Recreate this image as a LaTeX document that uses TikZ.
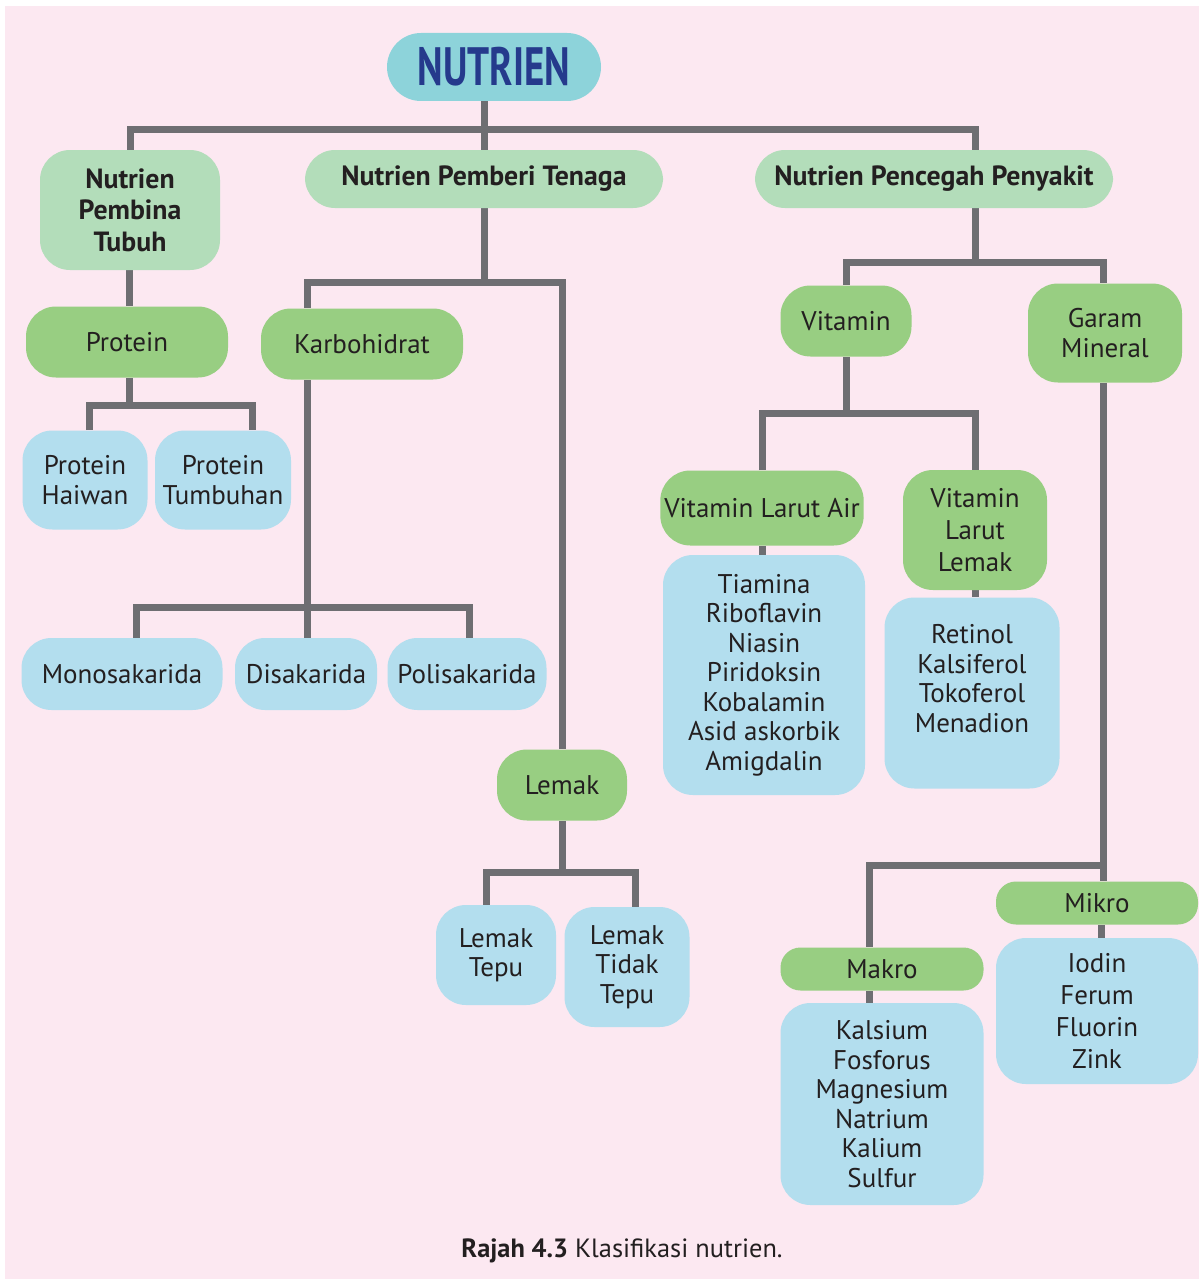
\documentclass[tikz,border=0pt]{standalone}
\usepackage{fontspec}
\setmainfont{PT Sans}
\usetikzlibrary{backgrounds}
\definecolor{bgpink}{HTML}{FCE8F1}
\definecolor{rootcyan}{HTML}{8DD3DA}
\definecolor{rootblue}{HTML}{253A8C}
\definecolor{palegreen}{HTML}{B3DDBA}
\definecolor{leafgreen}{HTML}{98CE82}
\definecolor{skyblue}{HTML}{B3DEEE}
\definecolor{linkgray}{HTML}{6E6E72}
\definecolor{inkblack}{HTML}{231F20}
\tikzset{
  boxsize/.style 2 args={minimum width=#1*0.5pt, minimum height=#2*0.5pt},
  base/.style={rounded corners=15pt, inner sep=2pt, align=center, text=inkblack,
    font=\fontsize{13.5}{14.75}\selectfont},
  rootbox/.style={base, fill=rootcyan, text=rootblue, rounded corners=17pt},
  groupbox/.style={base, fill=palegreen, font=\fontsize{13.9}{15.75}\selectfont\bfseries},
  kindbox/.style={base, fill=leafgreen},
  itembox/.style={base, fill=skyblue},
  link/.style={draw=linkgray, line width=3.5pt},
}

\begin{document}
\begin{tikzpicture}[x=0.5pt,y=-0.5pt]
  \useasboundingbox (0,0) rectangle (1199,1279);
  \begin{scope}[on background layer]
    \fill[white] (0,0) rectangle (1199,1279);
    \fill[bgpink] (5,6) rectangle (1199,1279);
  \end{scope}

  % root and the three groups
  \node[rootbox, boxsize={214}{68}] (root) at (494,67)
    {\fontsize{27}{27}\selectfont\bfseries\scalebox{0.72}[1]{NUTRIEN}};
  \node[groupbox, boxsize={180}{120}] (pembina) at (130,210) {Nutrien\\Pembina\\Tubuh};
  \node[groupbox, boxsize={358}{58}] (pemberi) at (484,179) {Nutrien Pemberi Tenaga};
  \node[groupbox, boxsize={358}{58}] (pencegah) at (934,179) {Nutrien Pencegah Penyakit};

  % body building
  \node[kindbox, boxsize={202}{71}] (protein) at (127,342) {Protein};
  \node[itembox, boxsize={125}{99}] (haiwan) at (85,480) {Protein\\Haiwan};
  \node[itembox, boxsize={136}{99}] (tumbuhan) at (223,480) {Protein\\Tumbuhan};

  % energy
  \node[kindbox, boxsize={202}{71}] (karbo) at (362,344) {Karbohidrat};
  \node[itembox, boxsize={201}{72}] (mono) at (122,674) {Monosakarida};
  \node[itembox, boxsize={142}{72}] (disa) at (306,674) {Disakarida};
  \node[itembox, boxsize={159}{72}] (poli) at (467,674) {Polisakarida};
  \node[kindbox, boxsize={130}{71}] (lemak) at (562,785) {Lemak};
  \node[itembox, boxsize={120}{100}] (tepu) at (496,955) {Lemak\\Tepu};
  \node[itembox, boxsize={125}{120}] (tidaktepu) at (627,967) {Lemak\\Tidak\\Tepu};

  % disease prevention
  \node[kindbox, boxsize={131}{71}] (vitamin) at (846,321) {Vitamin};
  \node[kindbox, boxsize={154}{99}] (garam) at (1105,333) {Garam\\Mineral};
  \node[kindbox, boxsize={202}{75}] (larutair) at (762,508) {Vitamin Larut Air};
  \node[kindbox, boxsize={144}{120}, font=\fontsize{13.5}{16}\selectfont] (larutlemak) at (975,530)
    {Vitamin\\Larut\\Lemak};
  \node[itembox, boxsize={202}{240}] (airlist) at (764,675)
    {Tiamina\\Riboflavin\\Niasin\\Piridoksin\\Kobalamin\\Asid askorbik\\Amigdalin};
  \node[itembox, boxsize={175}{191}] (lemaklist) at (972,693)
    {Retinol\\Kalsiferol\\Tokoferol\\Menadion\\{}};
  \node[kindbox, boxsize={202}{43}, rounded corners=10pt] (mikro) at (1097,903) {Mikro};
  \node[itembox, boxsize={202}{146}, font=\fontsize{13.5}{16}\selectfont] (mikrolist) at (1097,1011)
    {Iodin\\Ferum\\Fluorin\\Zink};
  \node[kindbox, boxsize={203}{43}, rounded corners=10pt] (makro) at (882,969) {Makro};
  \node[itembox, boxsize={203}{202}] (makrolist) at (882,1104)
    {Kalsium\\Fosforus\\Magnesium\\Natrium\\Kalium\\Sulfur};

  \node[text=inkblack, font=\fontsize{13.2}{15}\selectfont] (caption) at (622,1251)
    {\textbf{Rajah 4.3} Klasifikasi nutrien.};

  \begin{scope}[on background layer]
    % top level
    \coordinate (topbus) at (484,130);
    \draw[link] (pemberi.north) -- (root.south -| pemberi.north);
    \draw[link] (pembina.north) |- (topbus) -| (975,0 |- pencegah.north);
    % protein branch
    \coordinate (proteinbus) at (129,405);
    \draw[link] (pembina.south -| proteinbus) -- (protein.north -| proteinbus);
    \draw[link] (protein.south -| proteinbus) -- (proteinbus);
    \draw[link] (89,0 |- haiwan.north) |- (proteinbus) -| (252,0 |- tumbuhan.north);
    % energy branch
    \coordinate (tenagabus) at (484,282);
    \draw[link] (pemberi.south) -- (tenagabus);
    \draw[link] (307,0 |- karbo.north) |- (tenagabus) -| (lemak.north);
    \coordinate (karbobus) at (307,607);
    \draw[link] (karbo.south -| karbobus) -- (karbobus);
    \draw[link] (136,0 |- mono.north) |- (karbobus) -| (469,0 |- poli.north);
    \draw[link] (karbobus) -- (karbobus |- disa.north);
    \coordinate (lemakbus) at (562,872);
    \draw[link] (lemak.south) -- (lemakbus);
    \draw[link] (486,0 |- tepu.north) |- (lemakbus) -| (635,0 |- tidaktepu.north);
    % prevention branch
    \coordinate (pencegahbus) at (975,262);
    \draw[link] (pencegahbus |- pencegah.south) -- (pencegahbus);
    \draw[link] (vitamin.north) |- (pencegahbus) -| (1103,0 |- garam.north);
    \coordinate (vitaminbus) at (846,413);
    \draw[link] (vitamin.south) -- (vitaminbus);
    \draw[link] (larutair.north) |- (vitaminbus) -| (larutlemak.north);
    \draw[link] (larutair.south) -- (airlist.north -| larutair.south);
    \draw[link] (larutlemak.south) -- (lemaklist.north -| larutlemak.south);
    \coordinate (garambus) at (1103,865);
    \draw[link] (garam.south -| garambus) -- (mikro.north -| garambus);
    \draw[link] (garambus) -| (869,0 |- makro.north);
    \draw[link] (1101,0 |- mikro.south) -- (1101,0 |- mikrolist.north);
    \draw[link] (869,0 |- makro.south) -- (869,0 |- makrolist.north);
  \end{scope}
\end{tikzpicture}
\end{document}
